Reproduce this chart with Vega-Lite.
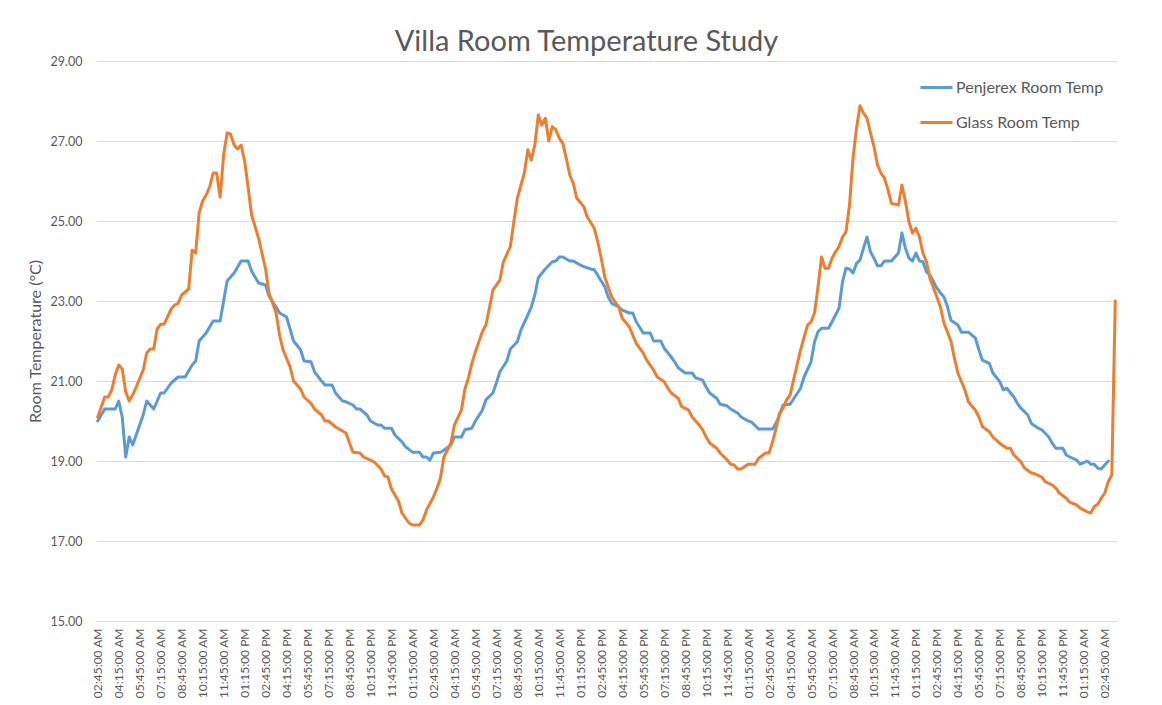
{
"$schema": "https://vega.github.io/schema/vega-lite/v6.json",
"width": 1021, "height": 560,
"autosize": {"type": "none"},
"padding": {"left": 96, "top": 61, "right": 45, "bottom": 84},
"background": "white",
"config": {"view": {"stroke": null}, "font": "Lato"},
"title": {"text": "Villa Room Temperature Study", "font": "Lato", "fontSize": 29, "fontWeight": "normal", "color": "#595959", "anchor": "middle", "dx": -20, "dy": 37, "baseline": "alphabetic", "offset": 12},
"datasets": {
"penjerex": [
{"time":"2017-03-01T02:45","temp":20.0},{"time":"2017-03-01T03:15","temp":20.3},{"time":"2017-03-01T04:00","temp":20.3},{"time":"2017-03-01T04:15","temp":20.5},{"time":"2017-03-01T04:30","temp":20.1},{"time":"2017-03-01T04:45","temp":19.1},{"time":"2017-03-01T05:00","temp":19.6},{"time":"2017-03-01T05:15","temp":19.4},{"time":"2017-03-01T05:30","temp":19.65},{"time":"2017-03-01T06:00","temp":20.15},{"time":"2017-03-01T06:15","temp":20.5},{"time":"2017-03-01T06:45","temp":20.3},{"time":"2017-03-01T07:15","temp":20.7},{"time":"2017-03-01T07:30","temp":20.7},{"time":"2017-03-01T08:00","temp":20.95},{"time":"2017-03-01T08:30","temp":21.1},{"time":"2017-03-01T09:00","temp":21.1},{"time":"2017-03-01T09:30","temp":21.4},{"time":"2017-03-01T09:45","temp":21.5},{"time":"2017-03-01T10:00","temp":22.0},{"time":"2017-03-01T10:30","temp":22.2},{"time":"2017-03-01T11:00","temp":22.5},{"time":"2017-03-01T11:30","temp":22.5},{"time":"2017-03-01T11:45","temp":23.0},{"time":"2017-03-01T12:00","temp":23.5},{"time":"2017-03-01T12:30","temp":23.7},{"time":"2017-03-01T13:00","temp":24.0},{"time":"2017-03-01T13:30","temp":24.0},{"time":"2017-03-01T13:45","temp":23.75},{"time":"2017-03-01T14:15","temp":23.45},{"time":"2017-03-01T14:45","temp":23.4},{"time":"2017-03-01T15:00","temp":23.12},{"time":"2017-03-01T15:30","temp":22.85},{"time":"2017-03-01T15:45","temp":22.7},{"time":"2017-03-01T16:15","temp":22.6},{"time":"2017-03-01T16:30","temp":22.3},{"time":"2017-03-01T16:45","temp":22.0},{"time":"2017-03-01T17:15","temp":21.78},{"time":"2017-03-01T17:30","temp":21.5},{"time":"2017-03-01T18:00","temp":21.48},{"time":"2017-03-01T18:15","temp":21.23},{"time":"2017-03-01T18:45","temp":21.0},{"time":"2017-03-01T19:00","temp":20.9},{"time":"2017-03-01T19:30","temp":20.9},{"time":"2017-03-01T19:45","temp":20.7},{"time":"2017-03-01T20:15","temp":20.5},{"time":"2017-03-01T20:30","temp":20.48},{"time":"2017-03-01T21:00","temp":20.4},{"time":"2017-03-01T21:15","temp":20.3},{"time":"2017-03-01T21:30","temp":20.3},{"time":"2017-03-01T22:00","temp":20.15},{"time":"2017-03-01T22:15","temp":20.0},{"time":"2017-03-01T22:45","temp":19.9},{"time":"2017-03-01T23:00","temp":19.9},{"time":"2017-03-01T23:15","temp":19.82},{"time":"2017-03-01T23:45","temp":19.82},
{"time":"2017-03-02T00:00","temp":19.65},{"time":"2017-03-02T00:30","temp":19.48},{"time":"2017-03-02T00:45","temp":19.36},{"time":"2017-03-02T01:15","temp":19.22},{"time":"2017-03-02T01:45","temp":19.22},{"time":"2017-03-02T02:00","temp":19.1},{"time":"2017-03-02T02:15","temp":19.1},{"time":"2017-03-02T02:30","temp":19.02},{"time":"2017-03-02T02:45","temp":19.2},{"time":"2017-03-02T03:15","temp":19.22},{"time":"2017-03-02T03:30","temp":19.27},{"time":"2017-03-02T04:00","temp":19.4},{"time":"2017-03-02T04:15","temp":19.6},{"time":"2017-03-02T04:45","temp":19.6},{"time":"2017-03-02T05:00","temp":19.78},{"time":"2017-03-02T05:30","temp":19.82},{"time":"2017-03-02T05:45","temp":20.0},{"time":"2017-03-02T06:15","temp":20.27},{"time":"2017-03-02T06:30","temp":20.53},{"time":"2017-03-02T07:00","temp":20.7},{"time":"2017-03-02T07:15","temp":20.95},{"time":"2017-03-02T07:30","temp":21.23},{"time":"2017-03-02T08:00","temp":21.5},{"time":"2017-03-02T08:15","temp":21.8},{"time":"2017-03-02T08:45","temp":21.98},{"time":"2017-03-02T09:00","temp":22.27},{"time":"2017-03-02T09:30","temp":22.65},{"time":"2017-03-02T09:45","temp":22.85},{"time":"2017-03-02T10:00","temp":23.15},{"time":"2017-03-02T10:15","temp":23.58},{"time":"2017-03-02T10:45","temp":23.8},{"time":"2017-03-02T11:15","temp":23.98},{"time":"2017-03-02T11:30","temp":24.0},{"time":"2017-03-02T11:45","temp":24.1},{"time":"2017-03-02T12:00","temp":24.1},{"time":"2017-03-02T12:30","temp":24.0},{"time":"2017-03-02T12:45","temp":24.0},{"time":"2017-03-02T13:15","temp":23.9},{"time":"2017-03-02T13:30","temp":23.86},{"time":"2017-03-02T14:00","temp":23.8},{"time":"2017-03-02T14:15","temp":23.78},{"time":"2017-03-02T14:45","temp":23.5},{"time":"2017-03-02T15:00","temp":23.36},{"time":"2017-03-02T15:15","temp":23.1},{"time":"2017-03-02T15:30","temp":22.94},{"time":"2017-03-02T16:00","temp":22.85},{"time":"2017-03-02T16:15","temp":22.77},{"time":"2017-03-02T16:45","temp":22.7},{"time":"2017-03-02T17:00","temp":22.7},{"time":"2017-03-02T17:15","temp":22.48},{"time":"2017-03-02T17:45","temp":22.2},{"time":"2017-03-02T18:15","temp":22.2},{"time":"2017-03-02T18:30","temp":22.0},{"time":"2017-03-02T19:00","temp":22.0},{"time":"2017-03-02T19:15","temp":21.82},{"time":"2017-03-02T19:45","temp":21.6},{"time":"2017-03-02T20:00","temp":21.48},{"time":"2017-03-02T20:15","temp":21.33},{"time":"2017-03-02T20:45","temp":21.2},{"time":"2017-03-02T21:15","temp":21.2},{"time":"2017-03-02T21:30","temp":21.08},{"time":"2017-03-02T22:00","temp":21.02},{"time":"2017-03-02T22:15","temp":20.85},{"time":"2017-03-02T22:30","temp":20.7},{"time":"2017-03-02T23:00","temp":20.57},{"time":"2017-03-02T23:15","temp":20.42},{"time":"2017-03-02T23:45","temp":20.38},
{"time":"2017-03-03T00:00","temp":20.3},{"time":"2017-03-03T00:30","temp":20.2},{"time":"2017-03-03T00:45","temp":20.1},{"time":"2017-03-03T01:15","temp":20.0},{"time":"2017-03-03T01:30","temp":19.97},{"time":"2017-03-03T02:00","temp":19.8},{"time":"2017-03-03T03:00","temp":19.8},{"time":"2017-03-03T03:15","temp":19.95},{"time":"2017-03-03T03:30","temp":20.15},{"time":"2017-03-03T03:45","temp":20.4},{"time":"2017-03-03T04:15","temp":20.42},{"time":"2017-03-03T04:30","temp":20.55},{"time":"2017-03-03T05:00","temp":20.82},{"time":"2017-03-03T05:15","temp":21.1},{"time":"2017-03-03T05:45","temp":21.48},{"time":"2017-03-03T06:00","temp":21.98},{"time":"2017-03-03T06:15","temp":22.23},{"time":"2017-03-03T06:30","temp":22.32},{"time":"2017-03-03T07:00","temp":22.32},{"time":"2017-03-03T07:15","temp":22.48},{"time":"2017-03-03T07:45","temp":22.82},{"time":"2017-03-03T08:00","temp":23.48},{"time":"2017-03-03T08:15","temp":23.82},{"time":"2017-03-03T08:30","temp":23.8},{"time":"2017-03-03T08:45","temp":23.7},{"time":"2017-03-03T09:00","temp":23.94},{"time":"2017-03-03T09:15","temp":24.02},{"time":"2017-03-03T09:30","temp":24.32},{"time":"2017-03-03T09:45","temp":24.6},{"time":"2017-03-03T10:00","temp":24.23},{"time":"2017-03-03T10:15","temp":24.07},{"time":"2017-03-03T10:30","temp":23.88},{"time":"2017-03-03T10:45","temp":23.88},{"time":"2017-03-03T11:00","temp":24.0},{"time":"2017-03-03T11:30","temp":24.0},{"time":"2017-03-03T12:00","temp":24.2},{"time":"2017-03-03T12:15","temp":24.7},{"time":"2017-03-03T12:30","temp":24.32},{"time":"2017-03-03T12:45","temp":24.07},{"time":"2017-03-03T13:00","temp":24.0},{"time":"2017-03-03T13:15","temp":24.2},{"time":"2017-03-03T13:30","temp":24.0},{"time":"2017-03-03T13:45","temp":23.98},{"time":"2017-03-03T14:00","temp":23.73},{"time":"2017-03-03T14:15","temp":23.65},{"time":"2017-03-03T14:45","temp":23.32},{"time":"2017-03-03T15:00","temp":23.2},{"time":"2017-03-03T15:15","temp":23.1},{"time":"2017-03-03T15:30","temp":22.86},{"time":"2017-03-03T15:45","temp":22.52},{"time":"2017-03-03T16:15","temp":22.4},{"time":"2017-03-03T16:30","temp":22.22},{"time":"2017-03-03T17:00","temp":22.22},{"time":"2017-03-03T17:30","temp":22.07},{"time":"2017-03-03T17:45","temp":21.78},{"time":"2017-03-03T18:00","temp":21.52},{"time":"2017-03-03T18:30","temp":21.44},{"time":"2017-03-03T18:45","temp":21.2},{"time":"2017-03-03T19:15","temp":20.98},{"time":"2017-03-03T19:30","temp":20.78},{"time":"2017-03-03T19:45","temp":20.82},{"time":"2017-03-03T20:15","temp":20.6},{"time":"2017-03-03T20:30","temp":20.44},{"time":"2017-03-03T20:45","temp":20.32},{"time":"2017-03-03T21:15","temp":20.15},{"time":"2017-03-03T21:30","temp":19.94},{"time":"2017-03-03T22:00","temp":19.82},{"time":"2017-03-03T22:15","temp":19.78},{"time":"2017-03-03T22:45","temp":19.6},{"time":"2017-03-03T23:00","temp":19.44},{"time":"2017-03-03T23:15","temp":19.32},{"time":"2017-03-03T23:45","temp":19.32},
{"time":"2017-03-04T00:00","temp":19.15},{"time":"2017-03-04T00:15","temp":19.1},{"time":"2017-03-04T00:45","temp":19.02},{"time":"2017-03-04T01:00","temp":18.92},{"time":"2017-03-04T01:30","temp":19.0},{"time":"2017-03-04T01:45","temp":18.92},{"time":"2017-03-04T02:00","temp":18.92},{"time":"2017-03-04T02:15","temp":18.82},{"time":"2017-03-04T02:30","temp":18.8},{"time":"2017-03-04T02:45","temp":18.9},{"time":"2017-03-04T03:00","temp":19.0}
],
"glass": [
{"time":"2017-03-01T02:45","temp":20.1},{"time":"2017-03-01T03:00","temp":20.35},{"time":"2017-03-01T03:15","temp":20.6},{"time":"2017-03-01T03:30","temp":20.6},{"time":"2017-03-01T03:45","temp":20.78},{"time":"2017-03-01T04:00","temp":21.15},{"time":"2017-03-01T04:15","temp":21.4},{"time":"2017-03-01T04:30","temp":21.3},{"time":"2017-03-01T04:45","temp":20.73},{"time":"2017-03-01T05:00","temp":20.5},{"time":"2017-03-01T05:15","temp":20.65},{"time":"2017-03-01T05:30","temp":20.85},{"time":"2017-03-01T06:00","temp":21.27},{"time":"2017-03-01T06:15","temp":21.7},{"time":"2017-03-01T06:30","temp":21.8},{"time":"2017-03-01T06:45","temp":21.8},{"time":"2017-03-01T07:00","temp":22.3},{"time":"2017-03-01T07:15","temp":22.42},{"time":"2017-03-01T07:30","temp":22.42},{"time":"2017-03-01T08:00","temp":22.8},{"time":"2017-03-01T08:15","temp":22.9},{"time":"2017-03-01T08:30","temp":22.94},{"time":"2017-03-01T08:45","temp":23.15},{"time":"2017-03-01T09:15","temp":23.3},{"time":"2017-03-01T09:30","temp":24.27},{"time":"2017-03-01T09:45","temp":24.2},{"time":"2017-03-01T10:00","temp":25.2},{"time":"2017-03-01T10:15","temp":25.5},{"time":"2017-03-01T10:30","temp":25.65},{"time":"2017-03-01T10:45","temp":25.85},{"time":"2017-03-01T11:00","temp":26.2},{"time":"2017-03-01T11:15","temp":26.2},{"time":"2017-03-01T11:30","temp":25.6},{"time":"2017-03-01T11:45","temp":26.65},{"time":"2017-03-01T12:00","temp":27.2},{"time":"2017-03-01T12:15","temp":27.17},{"time":"2017-03-01T12:30","temp":26.9},{"time":"2017-03-01T12:45","temp":26.8},{"time":"2017-03-01T13:00","temp":26.9},{"time":"2017-03-01T13:15","temp":26.5},{"time":"2017-03-01T13:30","temp":25.85},{"time":"2017-03-01T13:45","temp":25.15},{"time":"2017-03-01T14:15","temp":24.57},{"time":"2017-03-01T14:45","temp":23.8},{"time":"2017-03-01T15:00","temp":23.2},{"time":"2017-03-01T15:30","temp":22.7},{"time":"2017-03-01T15:45","temp":22.15},{"time":"2017-03-01T16:00","temp":21.78},{"time":"2017-03-01T16:30","temp":21.36},{"time":"2017-03-01T16:45","temp":21.0},{"time":"2017-03-01T17:15","temp":20.8},{"time":"2017-03-01T17:30","temp":20.6},{"time":"2017-03-01T18:00","temp":20.44},{"time":"2017-03-01T18:15","temp":20.3},{"time":"2017-03-01T18:45","temp":20.15},{"time":"2017-03-01T19:00","temp":20.0},{"time":"2017-03-01T19:15","temp":20.0},{"time":"2017-03-01T19:45","temp":19.85},{"time":"2017-03-01T20:00","temp":19.8},{"time":"2017-03-01T20:30","temp":19.7},{"time":"2017-03-01T20:45","temp":19.45},{"time":"2017-03-01T21:00","temp":19.22},{"time":"2017-03-01T21:30","temp":19.2},{"time":"2017-03-01T21:45","temp":19.1},{"time":"2017-03-01T22:15","temp":19.02},{"time":"2017-03-01T22:30","temp":18.98},{"time":"2017-03-01T23:00","temp":18.8},{"time":"2017-03-01T23:15","temp":18.63},{"time":"2017-03-01T23:30","temp":18.6},{"time":"2017-03-01T23:45","temp":18.3},
{"time":"2017-03-02T00:15","temp":18.0},{"time":"2017-03-02T00:30","temp":17.7},{"time":"2017-03-02T01:00","temp":17.45},{"time":"2017-03-02T01:15","temp":17.4},{"time":"2017-03-02T01:45","temp":17.4},{"time":"2017-03-02T02:00","temp":17.52},{"time":"2017-03-02T02:15","temp":17.77},{"time":"2017-03-02T02:45","temp":18.1},{"time":"2017-03-02T03:00","temp":18.32},{"time":"2017-03-02T03:15","temp":18.57},{"time":"2017-03-02T03:30","temp":19.1},{"time":"2017-03-02T04:00","temp":19.45},{"time":"2017-03-02T04:15","temp":19.9},{"time":"2017-03-02T04:45","temp":20.27},{"time":"2017-03-02T05:00","temp":20.8},{"time":"2017-03-02T05:15","temp":21.07},{"time":"2017-03-02T05:30","temp":21.44},{"time":"2017-03-02T05:45","temp":21.73},{"time":"2017-03-02T06:15","temp":22.23},{"time":"2017-03-02T06:30","temp":22.4},{"time":"2017-03-02T06:45","temp":22.82},{"time":"2017-03-02T07:00","temp":23.27},{"time":"2017-03-02T07:30","temp":23.52},{"time":"2017-03-02T07:45","temp":23.98},{"time":"2017-03-02T08:15","temp":24.36},{"time":"2017-03-02T08:30","temp":24.98},{"time":"2017-03-02T08:45","temp":25.57},{"time":"2017-03-02T09:15","temp":26.2},{"time":"2017-03-02T09:30","temp":26.78},{"time":"2017-03-02T09:45","temp":26.52},{"time":"2017-03-02T10:00","temp":26.9},{"time":"2017-03-02T10:15","temp":27.65},{"time":"2017-03-02T10:30","temp":27.4},{"time":"2017-03-02T10:45","temp":27.57},{"time":"2017-03-02T11:00","temp":27.0},{"time":"2017-03-02T11:15","temp":27.36},{"time":"2017-03-02T11:30","temp":27.28},{"time":"2017-03-02T11:45","temp":27.07},{"time":"2017-03-02T12:00","temp":26.94},{"time":"2017-03-02T12:15","temp":26.57},{"time":"2017-03-02T12:30","temp":26.15},{"time":"2017-03-02T12:45","temp":25.94},{"time":"2017-03-02T13:00","temp":25.57},{"time":"2017-03-02T13:30","temp":25.36},{"time":"2017-03-02T13:45","temp":25.1},{"time":"2017-03-02T14:15","temp":24.82},{"time":"2017-03-02T14:30","temp":24.48},{"time":"2017-03-02T14:45","temp":24.07},{"time":"2017-03-02T15:00","temp":23.6},{"time":"2017-03-02T15:15","temp":23.35},{"time":"2017-03-02T15:30","temp":23.1},{"time":"2017-03-02T16:00","temp":22.85},{"time":"2017-03-02T16:15","temp":22.57},{"time":"2017-03-02T16:45","temp":22.36},{"time":"2017-03-02T17:00","temp":22.15},{"time":"2017-03-02T17:15","temp":21.94},{"time":"2017-03-02T17:45","temp":21.7},{"time":"2017-03-02T18:00","temp":21.52},{"time":"2017-03-02T18:30","temp":21.27},{"time":"2017-03-02T18:45","temp":21.1},{"time":"2017-03-02T19:15","temp":20.98},{"time":"2017-03-02T19:30","temp":20.83},{"time":"2017-03-02T19:45","temp":20.7},{"time":"2017-03-02T20:15","temp":20.57},{"time":"2017-03-02T20:30","temp":20.36},{"time":"2017-03-02T21:00","temp":20.27},{"time":"2017-03-02T21:15","temp":20.1},{"time":"2017-03-02T21:45","temp":19.9},{"time":"2017-03-02T22:00","temp":19.78},{"time":"2017-03-02T22:15","temp":19.6},{"time":"2017-03-02T22:30","temp":19.45},{"time":"2017-03-02T23:00","temp":19.32},{"time":"2017-03-02T23:15","temp":19.2},{"time":"2017-03-02T23:45","temp":19.03},
{"time":"2017-03-03T00:00","temp":18.92},{"time":"2017-03-03T00:15","temp":18.9},{"time":"2017-03-03T00:30","temp":18.8},{"time":"2017-03-03T00:45","temp":18.8},{"time":"2017-03-03T01:15","temp":18.92},{"time":"2017-03-03T01:45","temp":18.92},{"time":"2017-03-03T02:00","temp":19.07},{"time":"2017-03-03T02:30","temp":19.2},{"time":"2017-03-03T02:45","temp":19.2},{"time":"2017-03-03T03:00","temp":19.48},{"time":"2017-03-03T03:15","temp":19.82},{"time":"2017-03-03T03:30","temp":20.2},{"time":"2017-03-03T03:45","temp":20.32},{"time":"2017-03-03T04:00","temp":20.53},{"time":"2017-03-03T04:15","temp":20.65},{"time":"2017-03-03T04:30","temp":21.02},{"time":"2017-03-03T04:45","temp":21.4},{"time":"2017-03-03T05:00","temp":21.78},{"time":"2017-03-03T05:30","temp":22.4},{"time":"2017-03-03T05:45","temp":22.48},{"time":"2017-03-03T06:00","temp":22.7},{"time":"2017-03-03T06:15","temp":23.36},{"time":"2017-03-03T06:30","temp":24.1},{"time":"2017-03-03T06:45","temp":23.82},{"time":"2017-03-03T07:00","temp":23.82},{"time":"2017-03-03T07:15","temp":24.07},{"time":"2017-03-03T07:30","temp":24.23},{"time":"2017-03-03T07:45","temp":24.36},{"time":"2017-03-03T08:00","temp":24.6},{"time":"2017-03-03T08:15","temp":24.73},{"time":"2017-03-03T08:30","temp":25.4},{"time":"2017-03-03T08:45","temp":26.57},{"time":"2017-03-03T09:00","temp":27.32},{"time":"2017-03-03T09:15","temp":27.88},{"time":"2017-03-03T09:30","temp":27.7},{"time":"2017-03-03T09:45","temp":27.57},{"time":"2017-03-03T10:00","temp":27.2},{"time":"2017-03-03T10:15","temp":26.86},{"time":"2017-03-03T10:30","temp":26.4},{"time":"2017-03-03T10:45","temp":26.2},{"time":"2017-03-03T11:00","temp":26.07},{"time":"2017-03-03T11:15","temp":25.78},{"time":"2017-03-03T11:30","temp":25.44},{"time":"2017-03-03T12:00","temp":25.4},{"time":"2017-03-03T12:15","temp":25.9},{"time":"2017-03-03T12:30","temp":25.48},{"time":"2017-03-03T12:45","temp":24.98},{"time":"2017-03-03T13:00","temp":24.7},{"time":"2017-03-03T13:15","temp":24.82},{"time":"2017-03-03T13:30","temp":24.6},{"time":"2017-03-03T13:45","temp":24.2},{"time":"2017-03-03T14:00","temp":23.98},{"time":"2017-03-03T14:15","temp":23.57},{"time":"2017-03-03T14:45","temp":23.1},{"time":"2017-03-03T15:00","temp":22.85},{"time":"2017-03-03T15:15","temp":22.45},{"time":"2017-03-03T15:45","temp":22.0},{"time":"2017-03-03T16:00","temp":21.57},{"time":"2017-03-03T16:15","temp":21.2},{"time":"2017-03-03T16:45","temp":20.78},{"time":"2017-03-03T17:00","temp":20.48},{"time":"2017-03-03T17:30","temp":20.27},{"time":"2017-03-03T17:45","temp":20.1},{"time":"2017-03-03T18:00","temp":19.86},{"time":"2017-03-03T18:30","temp":19.73},{"time":"2017-03-03T18:45","temp":19.6},{"time":"2017-03-03T19:15","temp":19.44},{"time":"2017-03-03T19:45","temp":19.32},{"time":"2017-03-03T20:00","temp":19.32},{"time":"2017-03-03T20:15","temp":19.15},{"time":"2017-03-03T20:45","temp":18.98},{"time":"2017-03-03T21:00","temp":18.83},{"time":"2017-03-03T21:30","temp":18.7},{"time":"2017-03-03T21:45","temp":18.68},{"time":"2017-03-03T22:15","temp":18.6},{"time":"2017-03-03T22:30","temp":18.48},{"time":"2017-03-03T23:00","temp":18.4},{"time":"2017-03-03T23:15","temp":18.32},{"time":"2017-03-03T23:30","temp":18.2},
{"time":"2017-03-04T00:00","temp":18.07},{"time":"2017-03-04T00:15","temp":17.97},{"time":"2017-03-04T00:45","temp":17.9},{"time":"2017-03-04T01:00","temp":17.82},{"time":"2017-03-04T01:30","temp":17.73},{"time":"2017-03-04T01:45","temp":17.7},{"time":"2017-03-04T02:00","temp":17.86},{"time":"2017-03-04T02:15","temp":17.92},{"time":"2017-03-04T02:30","temp":18.07},{"time":"2017-03-04T02:45","temp":18.2},{"time":"2017-03-04T03:00","temp":18.48},{"time":"2017-03-04T03:15","temp":18.65},{"time":"2017-03-04T03:30","temp":23.0}
]
},
"encoding": {
"x": {"field": "time", "type": "temporal",
 "scale": {"domain": [{"year":2017,"month":3,"date":1,"hours":2,"minutes":37,"seconds":30},{"year":2017,"month":3,"date":4,"hours":3,"minutes":37,"seconds":30}]},
 "axis": {"title": null, "format": "%I:%M:%S %p", "labelAngle": -90, "labelAlign": "right", "labelBaseline": "middle", "labelPadding": 7, "labelFont": "Lato", "labelFontSize": 12, "labelColor": "#595959", "labelOverlap": false, "labelFlush": false, "labelBound": false, "ticks": false, "grid": false, "domain": true, "domainColor": "#d9d9d9", "domainWidth": 1,
 "values": [
 {"year":2017,"month":3,"date":1,"hours":2,"minutes":45},{"year":2017,"month":3,"date":1,"hours":4,"minutes":15},{"year":2017,"month":3,"date":1,"hours":5,"minutes":45},{"year":2017,"month":3,"date":1,"hours":7,"minutes":15},{"year":2017,"month":3,"date":1,"hours":8,"minutes":45},{"year":2017,"month":3,"date":1,"hours":10,"minutes":15},{"year":2017,"month":3,"date":1,"hours":11,"minutes":45},{"year":2017,"month":3,"date":1,"hours":13,"minutes":15},{"year":2017,"month":3,"date":1,"hours":14,"minutes":45},{"year":2017,"month":3,"date":1,"hours":16,"minutes":15},{"year":2017,"month":3,"date":1,"hours":17,"minutes":45},{"year":2017,"month":3,"date":1,"hours":19,"minutes":15},{"year":2017,"month":3,"date":1,"hours":20,"minutes":45},{"year":2017,"month":3,"date":1,"hours":22,"minutes":15},{"year":2017,"month":3,"date":1,"hours":23,"minutes":45},
 {"year":2017,"month":3,"date":2,"hours":1,"minutes":15},{"year":2017,"month":3,"date":2,"hours":2,"minutes":45},{"year":2017,"month":3,"date":2,"hours":4,"minutes":15},{"year":2017,"month":3,"date":2,"hours":5,"minutes":45},{"year":2017,"month":3,"date":2,"hours":7,"minutes":15},{"year":2017,"month":3,"date":2,"hours":8,"minutes":45},{"year":2017,"month":3,"date":2,"hours":10,"minutes":15},{"year":2017,"month":3,"date":2,"hours":11,"minutes":45},{"year":2017,"month":3,"date":2,"hours":13,"minutes":15},{"year":2017,"month":3,"date":2,"hours":14,"minutes":45},{"year":2017,"month":3,"date":2,"hours":16,"minutes":15},{"year":2017,"month":3,"date":2,"hours":17,"minutes":45},{"year":2017,"month":3,"date":2,"hours":19,"minutes":15},{"year":2017,"month":3,"date":2,"hours":20,"minutes":45},{"year":2017,"month":3,"date":2,"hours":22,"minutes":15},{"year":2017,"month":3,"date":2,"hours":23,"minutes":45},
 {"year":2017,"month":3,"date":3,"hours":1,"minutes":15},{"year":2017,"month":3,"date":3,"hours":2,"minutes":45},{"year":2017,"month":3,"date":3,"hours":4,"minutes":15},{"year":2017,"month":3,"date":3,"hours":5,"minutes":45},{"year":2017,"month":3,"date":3,"hours":7,"minutes":15},{"year":2017,"month":3,"date":3,"hours":8,"minutes":45},{"year":2017,"month":3,"date":3,"hours":10,"minutes":15},{"year":2017,"month":3,"date":3,"hours":11,"minutes":45},{"year":2017,"month":3,"date":3,"hours":13,"minutes":15},{"year":2017,"month":3,"date":3,"hours":14,"minutes":45},{"year":2017,"month":3,"date":3,"hours":16,"minutes":15},{"year":2017,"month":3,"date":3,"hours":17,"minutes":45},{"year":2017,"month":3,"date":3,"hours":19,"minutes":15},{"year":2017,"month":3,"date":3,"hours":20,"minutes":45},{"year":2017,"month":3,"date":3,"hours":22,"minutes":15},{"year":2017,"month":3,"date":3,"hours":23,"minutes":45},
 {"year":2017,"month":3,"date":4,"hours":1,"minutes":15},{"year":2017,"month":3,"date":4,"hours":2,"minutes":45}
 ]}},
"y": {"field": "temp", "type": "quantitative",
 "scale": {"domain": [15, 29], "nice": false, "zero": false},
 "axis": {"title": "Room Temperature  (°C)", "values": [15,17,19,21,23,25,27,29], "format": ".2f", "labelFont": "Lato", "labelFontSize": 12.5, "labelColor": "#595959", "labelPadding": 14, "ticks": false, "domain": false, "grid": true, "gridColor": "#d9d9d9", "gridWidth": 1, "titleFont": "Lato", "titleFontSize": 16, "titleFontWeight": "normal", "titleColor": "#595959", "titleX": -61, "titleY": 280, "titleAngle": -90, "titleAlign": "center", "titleBaseline": "middle"}}
},
"layer": [
{"data": {"name": "penjerex"}, "mark": {"type": "line", "strokeWidth": 3, "strokeJoin": "round", "strokeCap": "round"},
 "encoding": {"color": {"datum": "Penjerex Room Temp", "type": "nominal",
  "scale": {"domain": ["Penjerex Room Temp", "Glass Room Temp"], "range": ["#5B9BD5", "#ED7D31"]},
  "legend": {"orient": "none", "legendX": 823, "legendY": 9, "title": null, "symbolType": "stroke", "symbolSize": 1024, "symbolStrokeWidth": 3, "labelFont": "Lato", "labelFontSize": 16, "labelColor": "#595959", "labelOffset": 2, "rowPadding": 9, "padding": 0}}}},
{"data": {"name": "glass"}, "mark": {"type": "line", "strokeWidth": 3, "strokeJoin": "round", "strokeCap": "round"},
 "encoding": {"color": {"datum": "Glass Room Temp", "type": "nominal"}}}
]
}
